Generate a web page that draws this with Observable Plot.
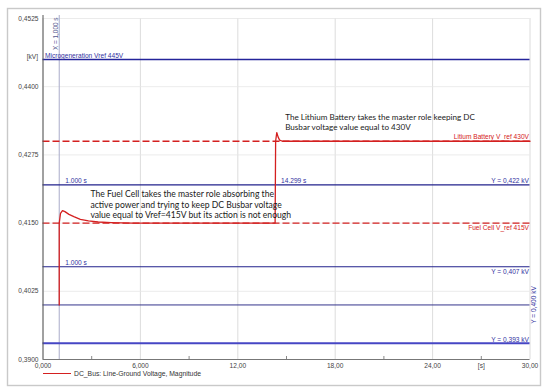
<!DOCTYPE html>
<html>
<head>
<meta charset="utf-8">
<script src="https://cdn.jsdelivr.net/npm/d3@7"></script>
<script src="https://cdn.jsdelivr.net/npm/@observablehq/plot@0.6"></script>
<style>
  html, body { margin: 0; padding: 0; background: #fff; }
  #wrap { position: relative; width: 550px; height: 391px; }
  #legend { position: absolute; left: 43px; top: 370px; font: 6.8px "Liberation Sans", Arial, sans-serif; color: #333; display: flex; align-items: center; }
  #legend .sw { width: 28px; height: 0; border-top: 1.4px solid #d42020; margin-right: 3px; }
</style>
</head>
<body>
<div id="wrap"><div id="chart"></div><div id="legend"><span class="sw"></span><span id="legtext"></span></div></div>
<script>
// ---- data ----
const signalTime  = [1.0, 1.0, 1.08, 1.2, 1.35, 1.6, 1.9, 2.3, 2.8, 3.4, 4.2, 5.5, 14.299, 14.33, 14.40, 14.48, 14.58, 14.75, 15.2, 30];
const signalValue = [0.4000, 0.4150, 0.4168, 0.4173, 0.4171, 0.4166, 0.4162, 0.4157, 0.4154, 0.4152, 0.4151, 0.4150, 0.4150, 0.4300, 0.4316, 0.4308, 0.4302, 0.4300, 0.4300, 0.4300];
const seriesName = "DC_Bus: Line-Ground Voltage, Magnitude";

const blueLevels = [0.445, 0.422, 0.407, 0.400, 0.393];
const blueWidths = [1.5, 1.2, 1.2, 1.0, 2.0];
const blueColors = ["#24249a", "#22228c", "#22228c", "#34348c", "#4646c4"];

const refLevels = [0.430, 0.415];
const refLabels = ["Litium Battery V_ref 430V", "Fuel Cell V_ref 415V"];

const markerTime = 1.0;
const markerLabel = "X = 1,000 s";

const yTicks = [0.3900, 0.4025, 0.4150, 0.4275, 0.4400, 0.4525];
const xTicks = [0, 6, 12, 18, 24, 30];
const xMinorTicks = [3, 9, 15, 21, 27];
const xUnitTick = 27, xUnit = "[s]", yUnit = "[kV]";

const cursorLabels = [
  {x: 1.0, y: 0.422, text: "1.000 s"},
  {x: 14.299, y: 0.422, text: "14.299 s"},
  {x: 1.0, y: 0.407, text: "1.000 s"}
];
const levelLabelsAbove = [
  {y: 0.422, text: "Y = 0,422 kV"},
  {y: 0.393, text: "Y = 0,393 kV"}
];
const levelLabelsBelow = [{y: 0.407, text: "Y = 0,407 kV"}];
const levelLabelVertical = {y: 0.400, text: "Y = 0,400 kV"};
const microLabel = {y: 0.445, text: "Microgeneration Vref 445V"};

const notes = [
  {x: 2.92, y: 0.41845, text: "The Fuel Cell takes the master role absorbing the\nactive power and trying to keep DC Busbar voltage\nvalue equal to Vref=415V but its action is not enough", size: 8.6},
  {x: 14.92, y: 0.4335, text: "The Lithium Battery takes the master role keeping DC\nBusbar voltage value equal to 430V", size: 8.1}
];

// ---- build ----
const signal = signalTime.map((t, i) => ({t, v: signalValue[i]}));
const blue = blueLevels.map((v, i) => ({v, w: blueWidths[i], c: blueColors[i]}));
const refs = refLevels.map((v, i) => ({v, label: refLabels[i]}));
const comma = s => s.replace(".", ",");
const sans = "Liberation Sans, Arial, sans-serif";
const labelBlue = "#3232a0";
const red = "#d42020";

const chart = Plot.plot({
  width: 550, height: 391,
  marginLeft: 42.5, marginRight: 20.5, marginTop: 18, marginBottom: 32,
  style: {fontFamily: sans, fontSize: "6.6px", color: "#444", background: "#fff"},
  x: {domain: [0, 30]},
  y: {domain: [0.39, 0.4525]},
  marks: [
    Plot.frame({stroke: "#c9c9c9", strokeWidth: 1.4, insetLeft: -35.5, insetTop: -10, insetRight: -10.5, insetBottom: -26}),
    Plot.gridX(xTicks, {stroke: "#d3d3d3", strokeOpacity: 1, strokeWidth: 0.8}),
    Plot.gridY(yTicks, {stroke: "#e6e6e6", strokeOpacity: 1, strokeWidth: 0.8}),
    Plot.ruleX([markerTime], {stroke: "#a9abc9", strokeWidth: 1, insetTop: -3}),
    Plot.text([markerLabel], {x: markerTime, frameAnchor: "top", rotate: -90, textAnchor: "end", lineAnchor: "bottom", dx: -1, dy: -1, fill: "#55578f", fontSize: 6.4}),
    Plot.ruleY(blue, {y: "v", stroke: "c", strokeWidth: "w"}),
    Plot.ruleY(refs, {y: "v", stroke: red, strokeWidth: 1.4, strokeDasharray: "7,3"}),
    Plot.line(signal, {x: "t", y: "v", stroke: red, strokeWidth: 1.3, curve: "linear"}),
    // axes
    Plot.ruleX([0], {stroke: "#555", strokeWidth: 1, insetTop: -3}),
    Plot.ruleY([0.39], {stroke: "#777", strokeWidth: 1}),
    Plot.axisY({ticks: yTicks, tickSize: 0, tickPadding: 4.5, tickFormat: d => comma(d3.format(".4f")(d)), label: null, fill: "#444"}),
    Plot.text([yUnit], {frameAnchor: "top-left", dx: -5, dy: 35.5, textAnchor: "end", fill: "#444"}),
    Plot.axisX({ticks: xTicks, tickSize: 0, tickPadding: 3.5, tickFormat: d => comma(d3.format(".4r")(d)), label: null, fill: "#444"}),
    Plot.axisX({ticks: xMinorTicks, tickSize: -3, tickPadding: 6.5, stroke: "#888", tickFormat: d => d === xUnitTick ? xUnit : "", label: null, fill: "#444"}),
    // labels
    Plot.text([microLabel], {x: 0, y: "y", text: "text", textAnchor: "start", lineAnchor: "bottom", dx: 2, dy: -1.5, fill: labelBlue}),
    Plot.text(cursorLabels, {x: "x", y: "y", text: "text", textAnchor: "start", lineAnchor: "bottom", dx: 6, dy: -1.5, fill: labelBlue}),
    Plot.text(levelLabelsAbove, {x: 30, y: "y", text: "text", textAnchor: "end", lineAnchor: "bottom", dx: -1, dy: -1.5, fill: labelBlue}),
    Plot.text(levelLabelsBelow, {x: 30, y: "y", text: "text", textAnchor: "end", lineAnchor: "top", dx: -1, dy: 2.5, fill: labelBlue}),
    Plot.text([levelLabelVertical], {x: 30, y: "y", text: "text", rotate: -90, textAnchor: "middle", lineAnchor: "top", dx: 1.5, fill: labelBlue}),
    Plot.text([refs[0]], {x: 30, y: "v", text: "label", textAnchor: "end", lineAnchor: "bottom", dx: -1, dy: -2, fill: red}),
    Plot.text([refs[1]], {x: 30, y: "v", text: "label", textAnchor: "end", lineAnchor: "top", dx: -1, dy: 2.5, fill: red}),
    Plot.text(notes, {x: "x", y: "y", text: "text", fontSize: "size", textAnchor: "start", lineAnchor: "middle", lineHeight: 1.22, fill: "#1a1a1a", fontFamily: "Lato, 'Open Sans', sans-serif"})
  ]
});
document.getElementById("chart").appendChild(chart);
document.getElementById("legtext").textContent = seriesName;
</script>
</body>
</html>
